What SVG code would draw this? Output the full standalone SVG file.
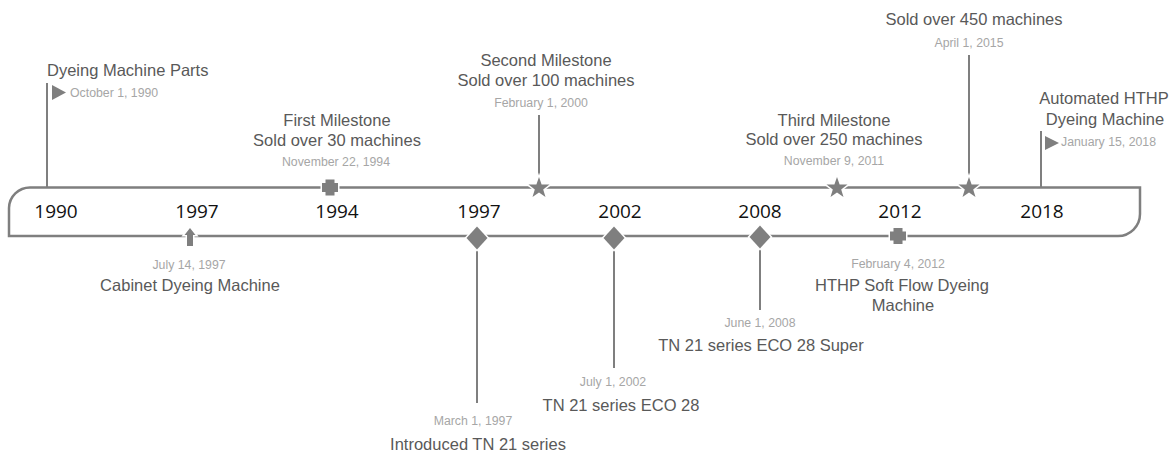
<svg xmlns="http://www.w3.org/2000/svg" width="1176" height="456" viewBox="0 0 1176 456">
  <style>
    .band { fill: none; stroke: #7f7f7f; stroke-width: 2.5; }
    .stem { stroke: #7f7f7f; stroke-width: 2; }
    .mark { fill: #7f7f7f; stroke: #ffffff; stroke-width: 3; paint-order: stroke; }
    .flag { fill: #7f7f7f; }
    .year { font-family: "Open Sans", "Liberation Sans", sans-serif; font-size: 19px; fill: #111111; text-anchor: middle; }
    .title { font-family: "Liberation Sans", Arial, sans-serif; font-size: 16.5px; fill: #595959; }
    .date { font-family: "Liberation Sans", Arial, sans-serif; font-size: 12.3px; fill: #a6a6a6; }
    .mid { text-anchor: middle; }
  </style>
  <defs>
    <polygon id="star" points="0,-11 2.6,-3.6 10.5,-3.4 4.2,1.4 6.5,9 0,4.5 -6.5,9 -4.2,1.4 -10.5,-3.4 -2.6,-3.6"/>
    <polygon id="diamond" points="0,-11.5 10.5,0 0,11.5 -10.5,0"/>
    <path id="plus" d="M-4.5,-8 H4.5 V-4.5 H8 V4.5 H4.5 V8 H-4.5 V4.5 H-8 V-4.5 H-4.5 Z"/>
  </defs>

  <!-- timeline band and leader lines -->
  <g id="connectors">
    <path class="band" d="M9,236 V208 A21,21 0 0 1 30,187.5 H1140 V214 A22,22 0 0 1 1118,236 Z"/>
    <line class="stem" x1="47" y1="83" x2="47" y2="187"/>
    <line class="stem" x1="539" y1="115" x2="539" y2="178"/>
    <line class="stem" x1="969" y1="55" x2="969" y2="178"/>
    <line class="stem" x1="1041" y1="131" x2="1041" y2="187"/>
    <line class="stem" x1="477" y1="246" x2="477" y2="403"/>
    <line class="stem" x1="614" y1="246" x2="614" y2="368"/>
    <line class="stem" x1="760" y1="246" x2="760" y2="310"/>
  </g>

  <!-- year labels along the band -->
  <g id="years">
    <text class="year" x="56" y="218">1990</text>
    <text class="year" x="197" y="218">1997</text>
    <text class="year" x="337" y="218">1994</text>
    <text class="year" x="479" y="218">1997</text>
    <text class="year" x="620" y="218">2002</text>
    <text class="year" x="760" y="218">2008</text>
    <text class="year" x="900" y="218">2012</text>
    <text class="year" x="1042" y="218">2018</text>
  </g>

  <g id="ev-1990">
    <polygon class="flag" points="52,85 66,92.5 52,100"/>
    <text class="title" x="47" y="76">Dyeing Machine Parts</text>
    <text class="date" x="70" y="97">October 1, 1990</text>
  </g>

  <g id="ev-1994">
    <use href="#plus" class="mark" x="330" y="187.5"/>
    <text class="title mid" x="337" y="126">First Milestone</text>
    <text class="title mid" x="337" y="146">Sold over 30 machines</text>
    <text class="date mid" x="336" y="166">November 22, 1994</text>
  </g>

  <g id="ev-2000">
    <use href="#star" class="mark" x="539" y="188"/>
    <text class="title mid" x="546" y="66">Second Milestone</text>
    <text class="title mid" x="546" y="86">Sold over 100 machines</text>
    <text class="date mid" x="541" y="107">February 1, 2000</text>
  </g>

  <g id="ev-2011">
    <use href="#star" class="mark" x="837" y="188"/>
    <text class="title mid" x="834" y="126">Third Milestone</text>
    <text class="title mid" x="834" y="145">Sold over 250 machines</text>
    <text class="date mid" x="834" y="165">November 9, 2011</text>
  </g>

  <g id="ev-2015">
    <use href="#star" class="mark" x="969" y="188"/>
    <text class="title mid" x="974" y="25">Sold over 450 machines</text>
    <text class="date mid" x="969" y="47">April 1, 2015</text>
  </g>

  <g id="ev-2018">
    <polygon class="flag" points="1045,136 1059,143 1045,150"/>
    <text class="title mid" x="1104" y="104">Automated HTHP</text>
    <text class="title mid" x="1105" y="125">Dyeing Machine</text>
    <text class="date" x="1061" y="146">January 15, 2018</text>
  </g>

  <g id="ev-1997-cabinet">
    <path class="mark" d="M190,228 L195.5,235 H193 V246 H187 V235 H184.5 Z"/>
    <text class="date mid" x="189" y="269">July 14, 1997</text>
    <text class="title mid" x="190" y="291">Cabinet Dyeing Machine</text>
  </g>

  <g id="ev-1997-tn21">
    <use href="#diamond" class="mark" x="477" y="238"/>
    <text class="date mid" x="473" y="425">March 1, 1997</text>
    <text class="title mid" x="478" y="450">Introduced TN 21 series</text>
  </g>

  <g id="ev-2002">
    <use href="#diamond" class="mark" x="614" y="238"/>
    <text class="date mid" x="613" y="386">July 1, 2002</text>
    <text class="title mid" x="621" y="411">TN 21 series ECO 28</text>
  </g>

  <g id="ev-2008">
    <use href="#diamond" class="mark" x="760" y="237"/>
    <text class="date mid" x="760" y="327">June 1, 2008</text>
    <text class="title mid" x="761" y="351">TN 21 series ECO 28 Super</text>
  </g>

  <g id="ev-2012">
    <use href="#plus" class="mark" x="898" y="236"/>
    <text class="date mid" x="898" y="268">February 4, 2012</text>
    <text class="title mid" x="902" y="291">HTHP Soft Flow Dyeing</text>
    <text class="title mid" x="903" y="311">Machine</text>
  </g>
</svg>
